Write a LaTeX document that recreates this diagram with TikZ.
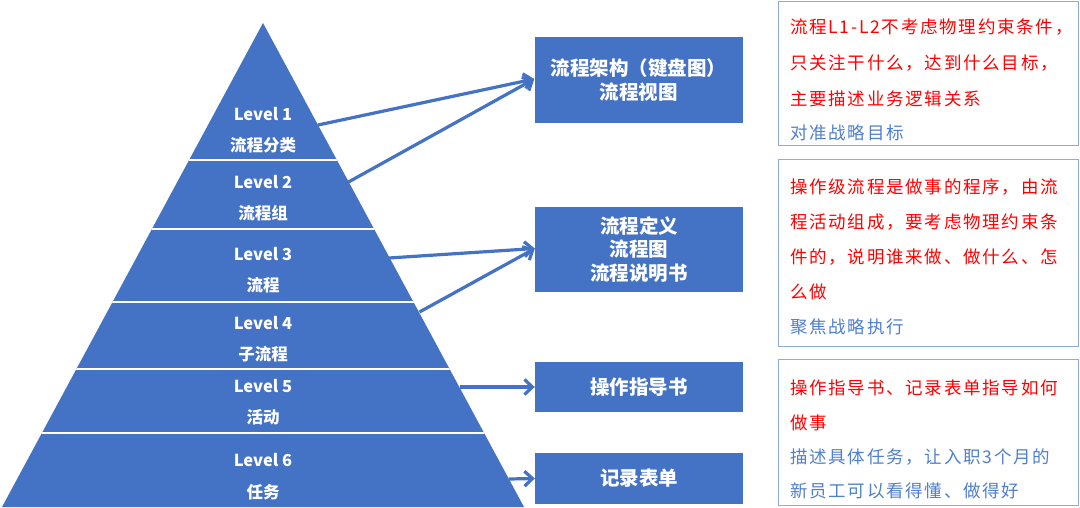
\documentclass[tikz,border=0pt]{standalone}
\usepackage{fontspec}
\setmainfont{Noto Sans CJK SC}
\newfontfamily\sidefont{Noto Sans CJK SC}[LetterSpace=10]
\usetikzlibrary{arrows.meta,calc}
\definecolor{pblue}{HTML}{4472C4}
\definecolor{bordblue}{HTML}{8FAADC}
\definecolor{tred}{HTML}{FF0000}
\definecolor{tblue}{HTML}{4F7FCF}
\begin{document}
\begin{tikzpicture}[x=1pt,y=-1pt,
  lvl/.style={text=white,font=\fontsize{16.5}{18}\selectfont\bfseries,inner sep=0pt},
  bluebox/.style={fill=pblue,text=white,font=\fontsize{19.5}{23.5}\selectfont\bfseries,align=center,inner sep=0pt,minimum width=208pt},
  notebox/.style={draw=bordblue,line width=1.3pt,fill=white,anchor=north west,minimum width=300pt,inner sep=0pt},
  redline/.style={text=tred,font=\fontsize{17.5}{20}\sidefont,anchor=west,inner sep=0pt},
  blueline/.style={text=tblue,font=\fontsize{17.5}{20}\sidefont,anchor=west,inner sep=0pt},
  arr/.style={draw=pblue,line width=3.2pt,-{Straight Barb[length=8pt,width=15pt]}},
  divider/.style={draw=white,line width=2pt}
]
\useasboundingbox (0,0) rectangle (1080,508);
% pyramid
\coordinate (apex) at (263,23);
\coordinate (bl) at (2,507);
\coordinate (br) at (524,507);
\fill[pblue] (apex) -- (br) -- (bl) -- cycle;
\begin{scope}
\clip (apex) -- (br) -- (bl) -- cycle;
\foreach \yy in {160.5,229.5,301.5,369,432.5}{
  \draw[divider] (0,\yy) -- (540,\yy);
}
\end{scope}
\node[lvl] (l1a) at (263,114.5) {Level 1};
\node[lvl] (l1b) at (263,145) {流程分类};
\node[lvl] (l2a) at (263,182.5) {Level 2};
\node[lvl] (l2b) at (263,213) {流程组};
\node[lvl] (l3a) at (263,254.5) {Level 3};
\node[lvl] (l3b) at (263,285.5) {流程};
\node[lvl] (l4a) at (263,323) {Level 4};
\node[lvl] (l4b) at (263,354.5) {子流程};
\node[lvl] (l5a) at (263,386.5) {Level 5};
\node[lvl] (l5b) at (263,417.5) {活动};
\node[lvl] (l6a) at (263,460.5) {Level 6};
\node[lvl] (l6b) at (263,492) {任务};
% blue boxes
\node[bluebox,minimum height=86pt] (b1) at (638.5,80) {流程架构（键盘图）\\流程视图};
\node[bluebox,minimum height=85pt] (b2) at (639,249.5) {流程定义\\流程图\\流程说明书};
\node[bluebox,minimum height=50pt] (b3) at (639,387) {操作指导书};
\node[bluebox,minimum height=51pt] (b4) at (639,478.5) {记录表单};
% edge points
\coordinate (e1) at (318,125);
\coordinate (e2) at (348.5,182);
\coordinate (e3) at (389,258);
\coordinate (e4) at (419.5,312);
\coordinate (e5) at (459.5,387);
\coordinate (e6) at (509,479);
\draw[arr] (e1) -- ([yshift=1pt]b1.west);
\draw[arr] (e2) -- ([yshift=1pt]b1.west);
\draw[arr] (e3) -- ([yshift=1pt]b2.west);
\draw[arr] (e4) -- ([yshift=1pt]b2.west);
\draw[arr] (e5) -- (b3.west);
\draw[arr] (e6) -- (b4.west);
% note boxes
\node[notebox,minimum height=144pt] (nA) at (778,1) {};
\node[notebox,minimum height=187pt] (nB) at (778,159) {};
\node[notebox,minimum height=146pt] (nC) at (778,359) {};
\node[redline] (a1) at (790,27.5) {流程L1-L2不考虑物理约束条件，};
\node[redline] (a2) at (790,63) {只关注干什么，达到什么目标，};
\node[redline] (a3) at (790,99) {主要描述业务逻辑关系};
\node[blueline] (a4) at (790,132.5) {对准战略目标};
\node[redline] (c1) at (790,187.5) {操作级流程是做事的程序，由流};
\node[redline] (c2) at (790,222) {程活动组成，要考虑物理约束条};
\node[redline] (c3) at (790,257) {件的，说明谁来做、做什么、怎};
\node[redline] (c4) at (790,292) {么做};
\node[blueline] (c5) at (790,326.5) {聚焦战略执行};
\node[redline] (d1) at (790,387.5) {操作指导书、记录表单指导如何};
\node[redline] (d2) at (790,422.5) {做事};
\node[blueline] (d3) at (790,457.5) {描述具体任务，让入职3个月的};
\node[blueline] (d4) at (790,491) {新员工可以看得懂、做得好};
\end{tikzpicture}
\end{document}
